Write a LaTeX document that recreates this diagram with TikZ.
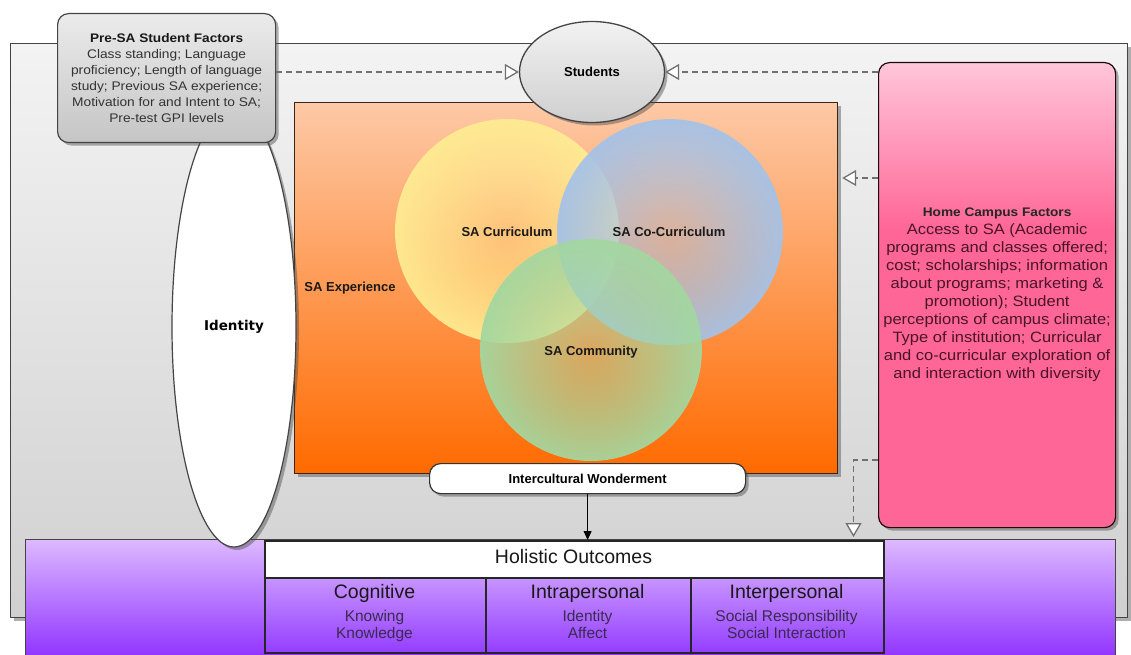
\documentclass[tikz,border=0pt]{standalone}
\usepackage{fontspec}
\setmainfont{Liberation Sans}
\newfontfamily\widefont[FakeStretch=1.1]{Liberation Sans}
\newfontfamily\dejavu{DejaVu Sans}
\usetikzlibrary{shapes.geometric,arrows.meta,shadows,fadings,calc}

\definecolor{frameTop}{HTML}{F3F3F3}
\definecolor{frameBot}{HTML}{D0D0D0}
\definecolor{purpTop}{HTML}{DDB9FF}
\definecolor{purpBot}{HTML}{8C2BFF}
\definecolor{cellTop}{HTML}{C794FF}
\definecolor{cellBot}{HTML}{943EFF}
\definecolor{orTop}{HTML}{FDC9A6}
\definecolor{orBot}{HTML}{FF6A00}
\definecolor{pinkA}{HTML}{FFC6DA}
\definecolor{pinkB}{HTML}{FF6698}
\definecolor{preTop}{HTML}{EBEBEB}
\definecolor{preBot}{HTML}{C5C5C5}
\definecolor{stTop}{HTML}{F2F2F2}
\definecolor{stBot}{HTML}{CFCFCF}
\definecolor{ycol}{HTML}{FFEC92}
\definecolor{bcol}{HTML}{A4C2E8}
\definecolor{gcol}{HTML}{A3D7A0}
\definecolor{pinkText}{HTML}{4A1428}
\definecolor{preText}{HTML}{333333}
\definecolor{cellText}{HTML}{3A2A50}
\definecolor{dashcol}{HTML}{707070}
\definecolor{edgecol}{HTML}{444444}

\pgfdeclareverticalshading{pinkshade}{100bp}{color(0bp)=(pinkB); color(25bp)=(pinkB); color(57bp)=(pinkB); color(75bp)=(pinkA); color(100bp)=(pinkA)}
\pgfdeclareradialshading{ringshade}{\pgfpointorigin}{color(0bp)=(black!62); color(25bp)=(black!6); color(50bp)=(black!6)}
\pgfdeclarefading{ringfade}{\pgfuseshading{ringshade}}

\begin{document}
\begin{tikzpicture}[x=1pt,y=-1pt,
  sh/.style={drop shadow={shadow xshift=3pt,shadow yshift=-3pt,opacity=0.45,fill=black!70}},
  plainbox/.style={rectangle,inner sep=0pt,anchor=north west,draw=edgecol,line width=1.2pt},
  roundbox/.style={plainbox,rounded corners=11pt},
  lbl/.style={font=\bfseries\fontsize{13}{15}\selectfont,text=black!90,inner sep=0pt},
  dasharrow/.style={draw=dashcol,line width=1.3pt,dash pattern=on 6pt off 4pt,
     -{Triangle[length=14pt,width=16pt,fill=white,line width=1.3pt]}},
  solidarrow/.style={draw=black,line width=0.8pt,-{Triangle[length=9pt,width=8pt]}},
  celltitle/.style={font=\fontsize{19.5}{22}\selectfont,text=black!90,inner sep=0pt,anchor=base},
  cellsub/.style={font=\fontsize{15.5}{17}\selectfont,text=cellText,inner sep=0pt,anchor=base},
]
\useasboundingbox (0,0) rectangle (1131,655);

% outer frame
\node[plainbox,sh,top color=frameTop,bottom color=frameBot,minimum width=1117pt,minimum height=574pt] (frame) at (10,43) {};

% purple band
\node[plainbox,top color=purpTop,bottom color=purpBot,minimum width=1090pt,minimum height=125pt] (band) at (25,539) {};

% SA experience box
\node[plainbox,sh,draw=black!70!brown,top color=orTop,bottom color=orBot,minimum width=543pt,minimum height=371pt] (exp) at (294,102) {};

% circles
\fill[ycol,path fading=ringfade] (507,231) circle (112pt);
\fill[bcol,path fading=ringfade] (670,232) circle (113pt);
\fill[gcol,path fading=ringfade] (591,350) circle (111pt);

\node[lbl] (cur) at (507,232) {SA Curriculum};
\node[lbl] (cocur) at (669,232) {SA Co-Curriculum};
\node[lbl] (comm) at (591,352) {SA Community};
\node[lbl] (saexp) at (350,288) {SA Experience};

% identity
\node[ellipse,sh,draw=edgecol,line width=1.2pt,fill=white,minimum width=124pt,minimum height=440pt,inner sep=0pt,
  font=\dejavu\bfseries\fontsize{13.5}{15}\selectfont] (identity) at (234,327) {Identity};

% pre-SA factors
\node[roundbox,sh,top color=preTop,bottom color=preBot,minimum width=218pt,minimum height=129pt,
  align=center,text=preText,font=\widefont\fontsize{12.5}{16}\selectfont] (pre) at (57,13)
  {{\bfseries\color{black!90}\fontsize{12.4}{16}\selectfont Pre-SA Student Factors}\\
   Class standing; Language\\
   proficiency; Length of language\\
   study; Previous SA experience;\\
   Motivation for and Intent to SA;\\
   Pre-test GPI levels};

% students
\node[ellipse,sh,draw=edgecol,line width=1.3pt,top color=stTop,bottom color=stBot,minimum width=145pt,minimum height=101pt,inner sep=0pt,
  font=\bfseries\fontsize{13}{15}\selectfont] (students) at (592,72) {Students};

% home campus factors
\node[roundbox,sh,draw=black!60!pinkText,shade,shading=pinkshade,minimum width=237pt,minimum height=465pt,
  align=center,text=pinkText,font=\widefont\fontsize{15}{18}\selectfont] (home) at (878,62)
  {{\bfseries\color{black!85}\fontsize{12.4}{18}\selectfont Home Campus Factors}\\
   Access to SA (Academic\\
   programs and classes offered;\\
   cost; scholarships; information\\
   about programs; marketing \&\\
   promotion); Student\\
   perceptions of campus climate;\\
   Type of institution; Curricular\\
   and co-curricular exploration of\\
   and interaction with diversity};

% intercultural wonderment
\node[roundbox,sh,draw=black!80,fill=white,minimum width=316pt,minimum height=30pt,
  font=\bfseries\fontsize{13}{15}\selectfont] (wonder) at (429,463) {Intercultural Wonderment};

% holistic outcomes table
\node[plainbox,draw=black!85,line width=1.5pt,fill=white,minimum width=619pt,minimum height=37pt] (header) at (264,540) {};
\node[plainbox,draw=black!85,line width=1.5pt,top color=cellTop,bottom color=cellBot,minimum width=221pt,minimum height=75pt] (cogcell) at (264,577) {};
\node[plainbox,draw=black!85,line width=1.5pt,top color=cellTop,bottom color=cellBot,minimum width=205pt,minimum height=75pt] (intracell) at (485,577) {};
\node[plainbox,draw=black!85,line width=1.5pt,top color=cellTop,bottom color=cellBot,minimum width=193pt,minimum height=75pt] (intercell) at (690,577) {};

\node[celltitle] (hol) at (573.5,563) {Holistic Outcomes};
\node[celltitle] (cog) at (374.5,598) {Cognitive};
\node[cellsub] (cog1) at (374.5,621) {Knowing};
\node[cellsub] (cog2) at (374.5,638) {Knowledge};
\node[celltitle] (intra) at (587.5,598) {Intrapersonal};
\node[cellsub] (intra1) at (587.5,621) {Identity};
\node[cellsub] (intra2) at (587.5,638) {Affect};
\node[celltitle] (inter) at (786.5,598) {Interpersonal};
\node[cellsub] (inter1) at (786.5,621) {Social Responsibility};
\node[cellsub] (inter2) at (786.5,638) {Social Interaction};

% connectors
\draw[dasharrow] (pre.east |- students.west) -- (students.west);
\draw[dasharrow] (home.west |- students.east) -- (students.east);
\coordinate (h1) at ($(home.north west)+(0,116)$);
\draw[dasharrow] (h1) -- ($(exp.north east)+(4,76)$);
\coordinate (h2) at ($(home.north west)+(0,398)$);
\draw[dasharrow] (h2) -| ($(header.north east)+(-31,-3)$);
\draw[solidarrow] (wonder.south) -- (wonder.south |- header.north);
\end{tikzpicture}
\end{document}
